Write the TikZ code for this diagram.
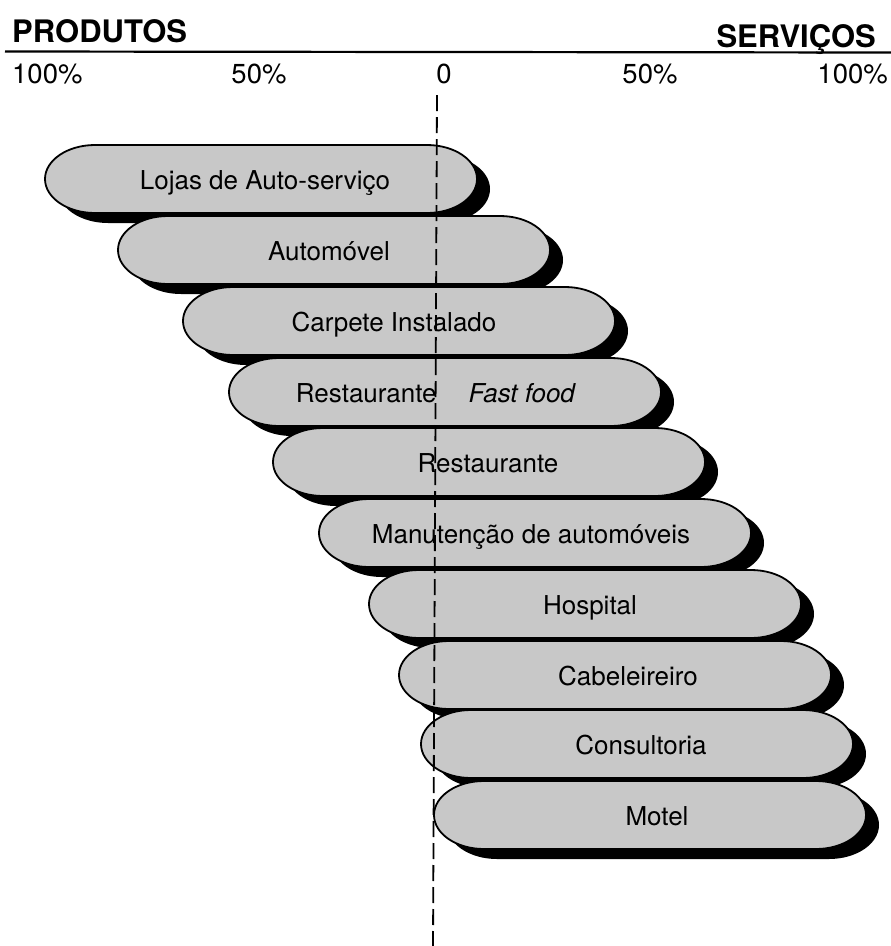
\documentclass[tikz,border=0pt]{standalone}
\usepackage{fontspec}
\setmainfont{TeX Gyre Heros}
\definecolor{pillgray}{RGB}{200,200,200}
\tikzset{
  pilltext/.style={anchor=base, inner sep=0pt, font=\fontsize{26pt}{30pt}\selectfont},
  pcttext/.style={anchor=base, inner sep=0pt, font=\fontsize{27.5pt}{31pt}\selectfont},
  headtext/.style={anchor=base, inner sep=0pt, font=\fontsize{31pt}{34pt}\selectfont\bfseries},
  pills/.style={fill=pillgray, draw=black, line width=1.8pt},
  pics/pill/.style={code={
    \fill[black] (63pt,-10pt) -- (395pt,-10pt)
      arc[start angle=90, end angle=-90, x radius=50pt, y radius=34pt]
      -- (63pt,-78pt)
      arc[start angle=270, end angle=90, x radius=50pt, y radius=34pt] -- cycle;
    \path[pills] (50pt,0pt) -- (382pt,0pt)
      arc[start angle=90, end angle=-90, x radius=50pt, y radius=34pt]
      -- (50pt,-68pt)
      arc[start angle=270, end angle=90, x radius=50pt, y radius=34pt] -- cycle;
  }},
  axisline/.style={line width=2.2pt},
  zeroline/.style={line width=1.8pt, dash pattern=on 16pt off 6pt}
}
\begin{document}
\begin{tikzpicture}[x=1pt,y=1pt]
\useasboundingbox (0,0) rectangle (891,-946);
% header
\node[headtext, anchor=base west] (prod) at (12,-42) {PRODUTOS};
\node[headtext, anchor=base east] (serv) at (876,-47) {SERVIÇOS};
\coordinate (hl) at (5,-51.5);
\coordinate (hr) at (891,-52.5);
\draw[axisline] (hl) -- (hr);
% percentages
\node[pcttext, anchor=base west] (l100) at (12,-83) {100\%};
\node[pcttext] (l50) at (259,-83) {50\%};
\node[pcttext] (zero) at (444,-83) {0};
\node[pcttext] (r50) at (650,-83) {50\%};
\node[pcttext, anchor=base east] (r100) at (888,-83) {100\%};
% pills
\pic at (45,-145) {pill};
\node[pilltext] (p1) at (265,-189) {Lojas de Auto-serviço};
\pic at (118,-216) {pill};
\node[pilltext] (p2) at (329,-260) {Automóvel};
\pic at (183,-287) {pill};
\node[pilltext] (p3) at (394,-331) {Carpete Instalado};
\pic at (229,-358) {pill};
\node[pilltext] (p4) at (436,-402) {Restaurante\hspace{32pt}\textit{Fast food}};
\pic at (273,-428) {pill};
\node[pilltext] (p5) at (488,-472) {Restaurante};
\pic at (319,-499) {pill};
\node[pilltext] (p6) at (531,-543) {Manutenção de automóveis};
\pic at (369,-570) {pill};
\node[pilltext] (p7) at (590,-614) {Hospital};
\pic at (399,-641) {pill};
\node[pilltext] (p8) at (628,-685) {Cabeleireiro};
\pic at (421,-710) {pill};
\node[pilltext] (p9) at (641,-754) {Consultoria};
\pic at (434,-781) {pill};
\node[pilltext] (p10) at (657,-825) {Motel};
% zero line
\coordinate (zt) at (437,-95);
\coordinate (zb) at (433,-946);
\draw[zeroline] (zt) -- (zb);
\end{tikzpicture}
\end{document}
